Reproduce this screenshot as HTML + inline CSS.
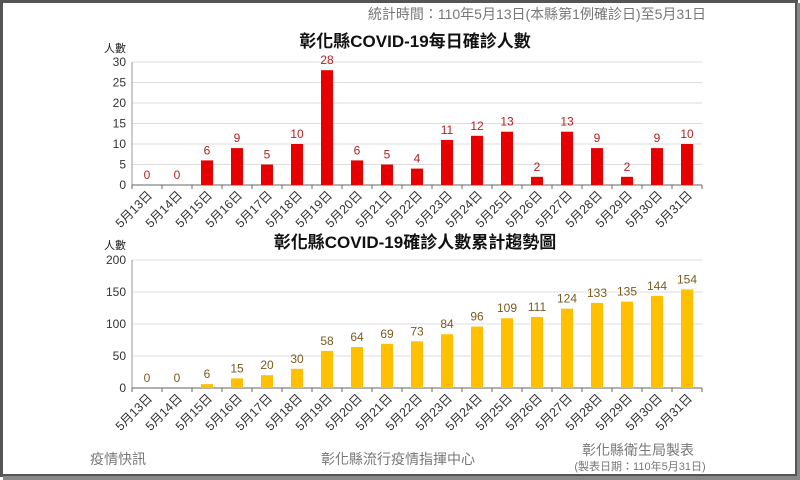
<!DOCTYPE html>
<html><head><meta charset="utf-8"><style>
html,body{margin:0;padding:0;background:#fff}
svg{display:block}
text{font-family:"Liberation Sans","Noto Sans CJK TC",sans-serif}
</style></head><body>
<svg width="800" height="480" viewBox="0 0 800 480" xmlns="http://www.w3.org/2000/svg">
<rect x="0" y="0" width="800" height="480" fill="#fff"/>
<rect x="1.5" y="1.5" width="795" height="474" fill="none" stroke="#555" stroke-width="3"/>
<rect x="3" y="476" width="797" height="4" fill="#888"/>
<rect x="797" y="3" width="3" height="477" fill="#888"/>
<text x="706" y="19" font-size="14" fill="#777" text-anchor="end">統計時間：110年5月13日(本縣第1例確診日)至5月31日</text>
<text x="415" y="47" font-size="17" font-weight="bold" fill="#111" text-anchor="middle">彰化縣COVID-19每日確診人數</text>
<text x="115" y="52" font-size="11" fill="#222" text-anchor="middle">人數</text>
<text x="415" y="248" font-size="17" font-weight="bold" fill="#111" text-anchor="middle">彰化縣COVID-19確診人數累計趨勢圖</text>
<text x="115" y="249" font-size="11" fill="#222" text-anchor="middle">人數</text>
<g id="g1" font-size="12" fill="#333"></g>
<text x="90" y="464" font-size="14" fill="#777">疫情快訊</text>
<text x="398" y="464" font-size="14" fill="#777" text-anchor="middle">彰化縣流行疫情指揮中心</text>
<text x="638" y="455" font-size="14" fill="#777" text-anchor="middle">彰化縣衛生局製表</text>
<text x="640" y="470" font-size="11" fill="#777" text-anchor="middle">(製表日期：110年5月31日)</text>
</svg>
<script>
const ns="http://www.w3.org/2000/svg";
const g=document.getElementById("g1");
function el(t,a,txt){const e=document.createElementNS(ns,t);for(const k in a)e.setAttribute(k,a[k]);if(txt!==undefined)e.textContent=txt;g.appendChild(e);return e;}
const daily=[0,0,6,9,5,10,28,6,5,4,11,12,13,2,13,9,2,9,10];
const cum=[0,0,6,15,20,30,58,64,69,73,84,96,109,111,124,133,135,144,154];
const x0=132,x1=702,n=19,w=(x1-x0)/n;
function chart(data,y0,ymax,step,py,color,lblColor,bw){
  const ytop=y0-ymax*py;
  for(let v=0;v<=ymax;v+=step){const y=y0-v*py;
    if(v>0)el("line",{x1:x0,x2:x1,y1:y,y2:y,stroke:"#ddd","stroke-width":1});
    el("text",{x:x0-6,y:y+4,"text-anchor":"end","font-size":12,fill:"#333"},v);}
  el("line",{x1:x0,x2:x0,y1:ytop,y2:y0,stroke:"#999"});
  el("line",{x1:x0,x2:x1,y1:y0,y2:y0,stroke:"#666"});
  for(let i=0;i<=n;i++){const x=x0+i*w;el("line",{x1:x,x2:x,y1:y0,y2:y0+4,stroke:"#666"});}
  data.forEach((v,i)=>{const cx=x0+(i+0.5)*w,h=v*py;
    if(v>0)el("rect",{x:cx-bw/2,y:y0-h,width:bw,height:h,fill:color});
    el("text",{x:cx,y:y0-h-6,"text-anchor":"middle","font-size":12,fill:lblColor},v);
    el("text",{x:0,y:0,"text-anchor":"end","font-size":12.5,fill:"#333",transform:`translate(${cx+6},${y0+11}) rotate(-45)`},`5月${13+i}日`);
  });
}
chart(daily,185,30,5,4.1,"#e60000","#b22222",12);
chart(cum,388,200,50,0.64,"#ffc000","#7a5a20",12);
</script>
</body></html>
